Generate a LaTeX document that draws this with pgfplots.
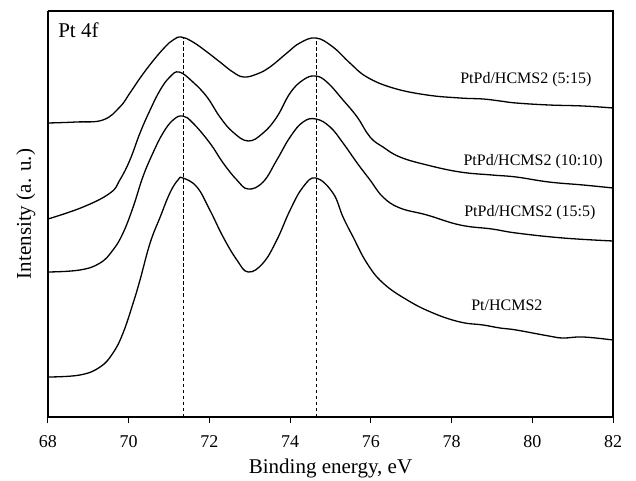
\documentclass[border=0pt]{standalone}
\usepackage{fontspec}
\setmainfont{Liberation Serif}
\usepackage{pgfplots}
\pgfplotsset{compat=1.18}

\begin{document}
\begin{tikzpicture}[x=1bp,y=1bp]
\path[use as bounding box] (-48bp,-64bp) rectangle (588bp,417bp);
\begin{axis}[
  at={(0,0)}, anchor=south west,
  scale only axis, width=565bp, height=406bp,
  xmin=68, xmax=82, ymin=0, ymax=406,
  xtick={68,70,...,82},
  ytick=\empty,
  axis x line*=bottom, axis y line*=left,
  axis line style={line width=1.1bp},
  tick align=outside,
  major tick length=6bp,
  tick style={line width=1bp, black},
  /pgf/number format/assume math mode=true,
  ticklabel style={font=\fontsize{18bp}{20bp}\selectfont},
  xticklabel style={yshift=-9bp},
  xlabel={Binding energy, eV},
  ylabel={Intensity (a. u.)},
  xlabel style={yshift=-4bp},
  ylabel style={yshift=3bp},
  label style={font=\fontsize{21bp}{23bp}\selectfont},
  clip=false,
  every axis plot/.append style={line width=1.3bp, black},
]
% box top and right edges
\draw[line width=1.1bp] (axis cs:68,406) -- (axis cs:82,406) -- (axis cs:82,0);

% peak positions of the Pt 4f doublet
\addplot[dashed, line width=1bp, dash pattern=on 3.5bp off 2.5bp] coordinates {(71.35,0) (71.35,380)};
\addplot[dashed, line width=1bp, dash pattern=on 3.5bp off 2.5bp] coordinates {(74.65,0) (74.65,379)};

% PtPd/HCMS2 (5:15)
\addplot[smooth, tension=0.7] coordinates {
(68.00,294) (68.70,295) (69.36,297) (69.78,310) (70.03,324) (70.30,340)
(70.60,356) (70.90,370) (71.10,377) (71.30,380) (71.59,375) (71.94,365)
(72.26,355) (72.58,345) (72.85,340) (73.18,343) (73.50,350) (73.92,364)
(74.24,374) (74.64,379) (75.06,370) (75.48,354) (75.90,340) (76.55,329)
(77.39,322) (78.21,319) (78.78,318) (79.20,316) (79.60,314) (80.41,312)
(81.26,311) (82.00,309)};

% PtPd/HCMS2 (10:10)
\addplot[smooth, tension=0.7] coordinates {
(68.00,198) (68.87,210) (69.54,224) (69.78,237) (70.03,257)
(70.28,284) (70.53,307) (70.78,327) (71.02,340) (71.25,345) (71.59,335)
(71.94,320) (72.26,300) (72.58,285) (72.96,276) (73.33,284) (73.67,300)
(74.00,324) (74.32,337) (74.62,341) (74.91,335) (75.31,317) (75.66,300)
(75.98,280) (76.30,270) (76.72,260) (77.39,252) (78.21,245) (79.00,242)
(79.60,240) (80.41,235) (81.26,232) (82.00,229)};

% PtPd/HCMS2 (15:5)
\addplot[smooth, tension=0.7] coordinates {
(68.00,145) (68.79,147) (69.29,154) (69.61,167) (69.86,184) (70.11,210)
(70.35,240) (70.60,264) (70.85,284) (71.10,297) (71.34,301) (71.59,294)
(72.01,274) (72.34,254) (72.68,237) (72.96,228) (73.33,235) (73.67,257)
(74.00,280) (74.32,295) (74.64,298) (74.99,290) (75.31,274) (75.66,254)
(75.98,237) (76.30,220) (76.72,209) (77.39,202) (78.21,192) (79.00,188)
(79.60,184) (80.76,179) (82.00,176)};

% Pt/HCMS2
\addplot[smooth, tension=0.7] coordinates {
(68.00,40) (68.79,42) (69.29,50) (69.61,64) (69.86,84) (70.11,114)
(70.28,137) (70.53,174) (70.78,200) (71.02,224) (71.22,237) (71.34,239)
(71.69,230) (72.01,207) (72.34,180) (72.68,157) (72.96,145) (73.33,154)
(73.67,177) (74.00,207) (74.32,230) (74.64,239) (75.06,224) (75.31,200)
(75.56,180) (75.90,154) (76.30,134) (76.90,117) (77.54,104) (78.21,95)
(78.78,92) (79.20,89) (79.60,87) (80.41,81) (80.76,79) (81.26,80) (82.00,77)};

\begin{scope}[every node/.style={font=\fontsize{16bp}{18bp}\selectfont, inner sep=0pt}]
\node at (axis cs:79.84,337) {PtPd/HCMS2 (5:15)};
\node at (axis cs:80.02,255) {PtPd/HCMS2 (10:10)};
\node at (axis cs:79.94,204) {PtPd/HCMS2 (15:5)};
\node at (axis cs:79.37,112) {Pt/HCMS2};
\end{scope}
\node[anchor=west, inner sep=0pt, font=\fontsize{21bp}{23bp}\selectfont] at (axis cs:68.25,387) {Pt 4f};
\end{axis}
\end{tikzpicture}
\end{document}
